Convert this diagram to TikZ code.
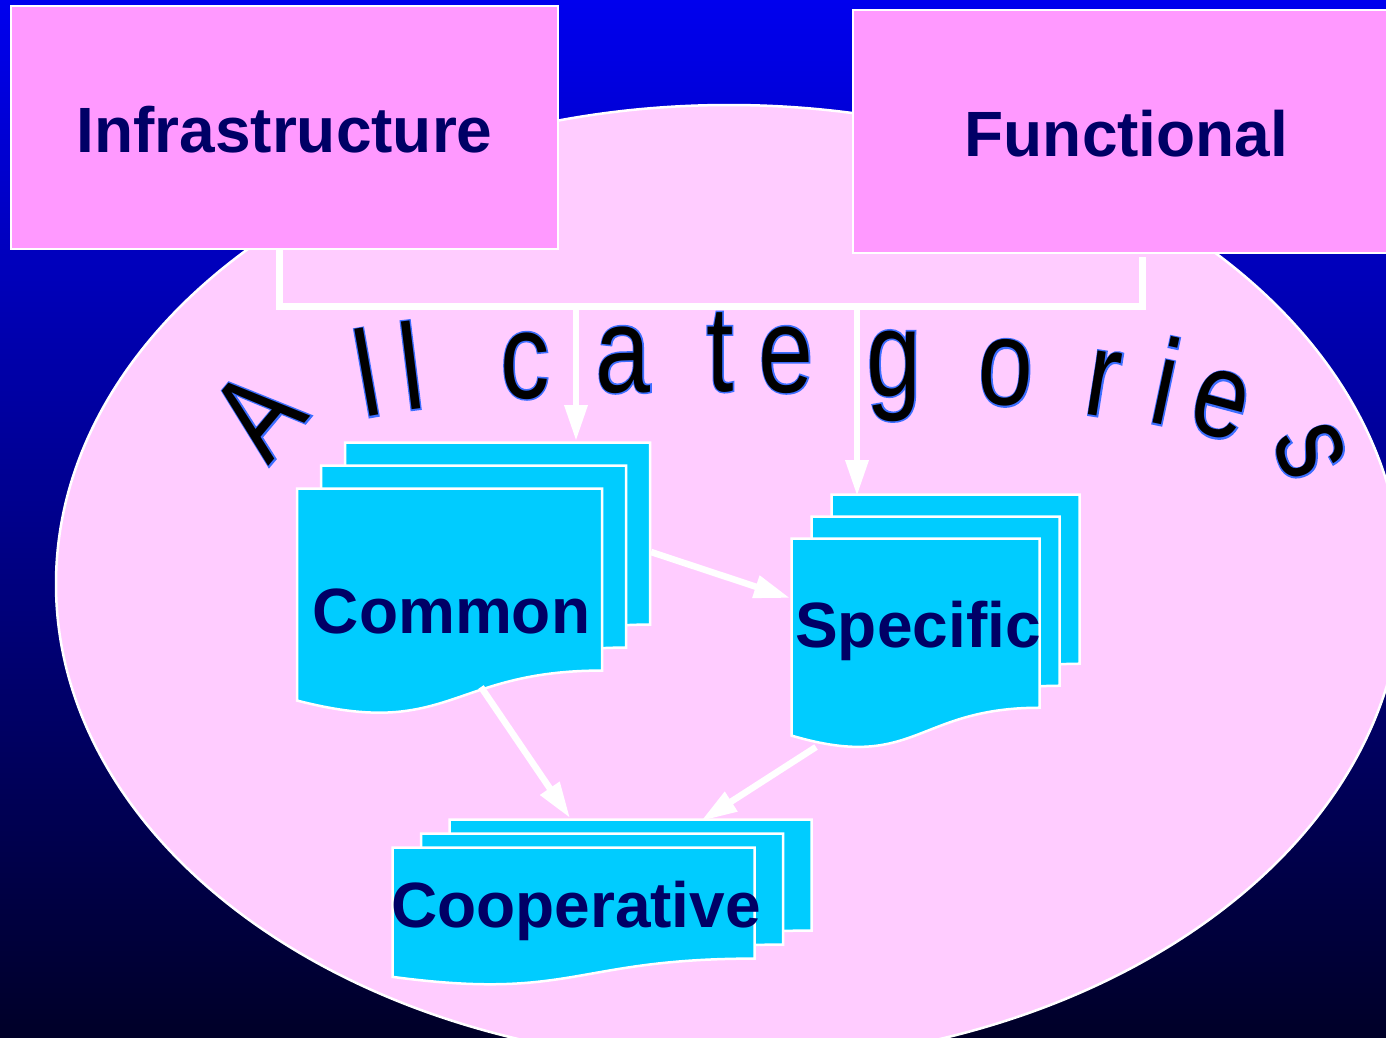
\documentclass[tikz,border=0pt]{standalone}
\usepackage{fontspec}
\setmainfont{Liberation Sans}
\newfontfamily\wafont{Liberation Sans}
\newfontfamily\waoutline[FakeBold=2.6]{Liberation Sans}
\usetikzlibrary{arrows.meta}
\definecolor{bgtop}{RGB}{0,0,238}
\definecolor{bgbot}{RGB}{0,0,40}
\definecolor{ellfill}{RGB}{255,204,255}
\definecolor{boxpink}{RGB}{255,153,255}
\definecolor{doccyan}{RGB}{0,204,255}
\definecolor{navy}{RGB}{0,0,102}
\definecolor{outblue}{RGB}{60,110,255}
\tikzset{
  docshape/.style={fill=doccyan, draw=white, line width=2.5},
  topbox/.style={fill=boxpink, draw=white, line width=2.5, inner sep=0pt,
    font=\bfseries\fontsize{64}{64}\selectfont, text=navy, text height=50pt, text depth=0pt},
  doclabel/.style={anchor=base, inner sep=0pt, font=\bfseries\fontsize{64}{64}\selectfont, text=navy},
  bus/.style={draw=white, line width=7, line join=miter},
  arr/.style={draw=white, line width=6.5, -{Triangle[length=36pt,width=22pt]}},
  wa/.style={anchor=base, inner sep=0pt, font=\fontsize{122}{122}\selectfont}
}
\newcommand{\docpath}[4]{%
  \filldraw[docshape] (#1,#2) -- (#1+#3,#2) -- (#1+#3,#2+0.802*#4)
    .. controls (#1+0.5*#3,#2+0.802*#4) and (#1+0.5*#3,#2+1.108*#4) .. (#1,#2+0.934*#4) -- cycle;}
\newcommand{\multidoc}[6]{%
  \docpath{#1+2*#5}{#2+2*#6}{#3}{#4}%
  \docpath{#1+#5}{#2+#6}{#3}{#4}%
  \docpath{#1}{#2}{#3}{#4}}
\newcommand{\wal}[1]{\scalebox{0.81}[1]{\rlap{\color{outblue}\waoutline #1}\color{black}\wafont #1}}
\begin{document}
\begin{tikzpicture}[x=1pt,y=-1pt]
\useasboundingbox (0,0) rectangle (1386,1037);
\clip (0,0) rectangle (1386,1037);
\shade[top color=bgtop, bottom color=bgbot] (0,0) rectangle (1386,1037);
% big ellipse
\draw[white, line width=2.5, fill=ellfill] (729,584) ellipse [x radius=673, y radius=479];
% top boxes
\node[topbox, minimum width=547, minimum height=243] (infra) at (284.5,127.5) {Infrastructure};
\node[topbox, minimum width=547, minimum height=243] (func) at (1126.5,131.5) {Functional};
% bus
\coordinate (iB) at (279,249);
\coordinate (bL) at (279,306);
\coordinate (bR) at (1142,306);
\coordinate (fB) at (1142,257);
\draw[bus] (iB) -- (bL) -- (bR) -- (fB);
% documents
\multidoc{297}{488.5}{305}{227}{24}{-23}
\multidoc{791.5}{538.5}{248}{211}{20}{-22}
\multidoc{392.5}{847.5}{362}{138.5}{28.5}{-14}
\node[doclabel] (common) at (451.5,633) {Common};
\node[doclabel] (specific) at (918,647) {Specific};
\node[doclabel] (coop) at (576,927) {Cooperative};
% connector points
\coordinate (b1) at (576,306);
\coordinate (commonTop) at (576,441);
\coordinate (b2) at (857,306);
\coordinate (specTop) at (857,496);
\coordinate (commonR) at (651,552);
\coordinate (specL) at (790,598);
\coordinate (commonB) at (481,687);
\coordinate (coopT1) at (570,818);
\coordinate (specB) at (816,747);
\coordinate (coopT2) at (701,821);
\draw[arr] (b1) -- (commonTop);
\draw[arr] (b2) -- (specTop);
\draw[arr] (commonR) -- (specL);
\draw[arr] (commonB) -- (coopT1);
\draw[arr] (specB) -- (coopT2);
% All categories
\node[wa, rotate=50] (wA) at (290,441) {\wal{A}};
\node[wa, rotate=10] (wl1) at (374,416) {\wal{l}};
\node[wa, rotate=7] (wl2) at (416,409) {\wal{l}};
\node[wa] (wc) at (525,398) {\wal{c}};
\node[wa] (wa1) at (623,392) {\wal{a}};
\node[wa] (wt) at (720,391) {\wal{t}};
\node[wa] (we1) at (786,392) {\wal{e}};
\node[wa] (wg) at (894,396) {\wal{g}};
\node[wa, rotate=-3] (wo) at (1004,405) {\wal{o}};
\node[wa, rotate=-9] (wr) at (1098,416) {\wal{r}};
\node[wa, rotate=-12] (wi) at (1157,424) {\wal{i}};
\node[wa, rotate=-15] (we2) at (1212,436) {\wal{e}};
\node[wa, rotate=-70] (ws) at (1280,462) {\wal{s}};
\end{tikzpicture}
\end{document}
